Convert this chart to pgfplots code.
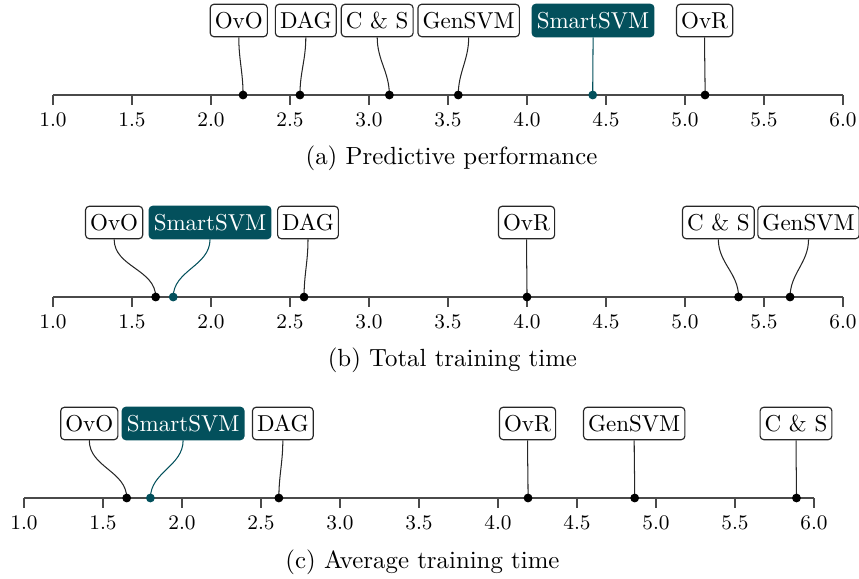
\documentclass[border=0pt]{standalone}
\usepackage{pgfplots}
\pgfplotsset{compat=1.18}
\definecolor{tealS}{HTML}{03505C}
\definecolor{axgray}{HTML}{4A4A4A}
\tikzset{
  lbox/.style={draw=black!85, rounded corners=1.6pt, line width=0.5pt, inner xsep=2pt, inner ysep=0pt,
    minimum height=14.1pt, text height=6.83pt, text depth=0pt, font=\normalsize, fill=white},
  sbox/.style={lbox, fill=tealS, draw=tealS, text=white},
  lline/.style={black!85, line width=0.45pt},
  sline/.style={tealS, line width=0.45pt},
  capt/.style={font=\fontsize{10.8}{13}\selectfont},
}
\newcommand\lab[3]{\node[lbox] (tmp) at (axis cs:#2,1) {#3};
  \draw[lline] (tmp.south) to[out=-90,in=90] (axis cs:#1,0);}
\newcommand\labs[3]{\node[sbox] (tmp) at (axis cs:#2,1) {#3};
  \draw[sline] (tmp.south) to[out=-90,in=90] (axis cs:#1,0);}
\pgfplotsset{rankaxis/.style={
  scale only axis, width=343.5pt, height=32.4pt,
  xmin=1, xmax=6, ymin=0, ymax=1, clip=false,
  axis x line=bottom, axis y line=none,
  x axis line style={-, axgray, line width=0.6pt},
  xtick={1,1.5,2,2.5,3,3.5,4,4.5,5,5.5,6}, ytick=\empty,
  tick align=outside, major tick length=4.3pt,
  xtick style={axgray, line width=0.6pt},
  xticklabel style={font=\small, /pgf/number format/.cd, fixed, fixed zerofill, precision=1},
  anchor=south west,
}}
\begin{document}
\begin{tikzpicture}
\path[use as bounding box] (0,0) rectangle (373.5pt,251.75pt);
% (a)
\begin{axis}[rankaxis, at={(23.04pt,210.44pt)}]
\lab{2.203}{2.176}{OvO}
\lab{2.563}{2.600}{DAG}
\lab{3.129}{3.052}{C \& S}
\lab{3.565}{3.631}{GenSVM}
\labs{4.416}{4.418}{SmartSVM}
\lab{5.127}{5.124}{OvR}
\addplot[only marks, mark=*, mark size=1.7pt, black] coordinates {(2.203,0) (2.563,0) (3.129,0) (3.565,0) (5.127,0)};
\addplot[only marks, mark=*, mark size=1.7pt, tealS] coordinates {(4.416,0)};
\node[capt] at (axis cs:3.522,0) [yshift=-27.6pt] {(a) Predictive performance};
\end{axis}
% (b)
\begin{axis}[rankaxis, at={(23.04pt,122.61pt)}]
\lab{1.650}{1.387}{OvO}
\labs{1.761}{1.994}{SmartSVM}
\lab{2.589}{2.614}{DAG}
\lab{4.000}{3.997}{OvR}
\lab{5.339}{5.211}{C \& S}
\lab{5.665}{5.782}{GenSVM}
\addplot[only marks, mark=*, mark size=1.7pt, black] coordinates {(1.650,0) (2.589,0) (4.000,0) (5.339,0) (5.665,0)};
\addplot[only marks, mark=*, mark size=1.7pt, tealS] coordinates {(1.761,0)};
\node[capt] at (axis cs:3.528,0) [yshift=-27.6pt] {(b) Total training time};
\end{axis}
% (c)
\begin{axis}[rankaxis, at={(10.44pt,35.22pt)}]
\lab{1.650}{1.413}{OvO}
\labs{1.800}{2.007}{SmartSVM}
\lab{2.613}{2.638}{DAG}
\lab{4.190}{4.187}{OvR}
\lab{4.865}{4.862}{GenSVM}
\lab{5.889}{5.886}{C \& S}
\addplot[only marks, mark=*, mark size=1.7pt, black] coordinates {(1.650,0) (2.613,0) (4.190,0) (4.865,0) (5.889,0)};
\addplot[only marks, mark=*, mark size=1.7pt, tealS] coordinates {(1.800,0)};
\node[capt] at (axis cs:3.522,0) [yshift=-28pt] {(c) Average training time};
\end{axis}
\end{tikzpicture}
\end{document}
